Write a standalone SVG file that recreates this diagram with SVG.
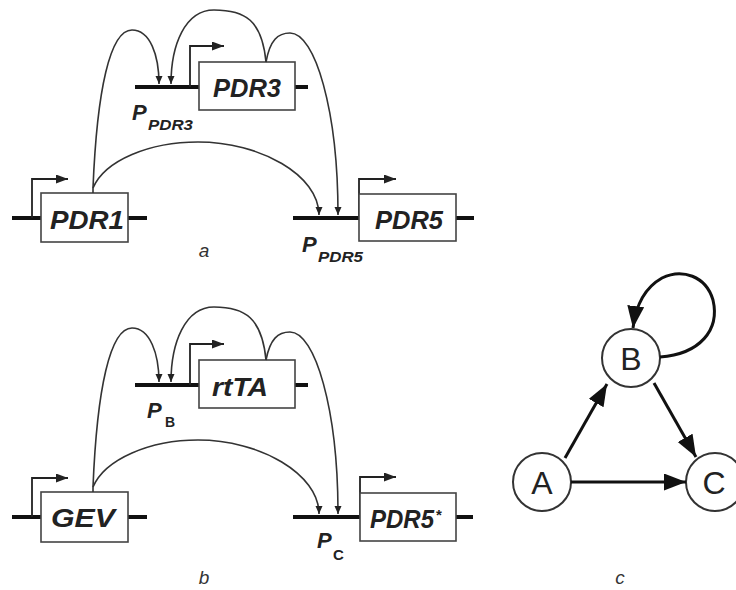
<svg xmlns="http://www.w3.org/2000/svg" width="736" height="590" viewBox="0 0 736 590">
<style>
.bg{fill:#ffffff}
.dna{stroke:#111;stroke-width:4;fill:none}
.box{fill:#fff;stroke:#444;stroke-width:1.6}
.prom{stroke:#222;stroke-width:1.8;fill:none}
.arc{stroke:#333;stroke-width:1.6;fill:none}
.gene{font-family:"Liberation Sans",Arial,sans-serif;font-weight:bold;font-style:italic;font-size:25px;fill:#222;text-anchor:middle}
.pl{font-family:"Liberation Sans",Arial,sans-serif;font-weight:bold;font-style:italic;fill:#222}
.sub{font-family:"Liberation Sans",Arial,sans-serif;font-weight:bold;fill:#222}
.cap{font-family:"Liberation Sans",Arial,sans-serif;font-style:italic;font-size:19px;fill:#333;text-anchor:middle}
.circ{fill:#fff;stroke:#333;stroke-width:2}
.let{font-family:"Liberation Sans",Arial,sans-serif;font-size:32px;fill:#222;text-anchor:middle}
.edge{stroke:#111;stroke-width:3;fill:none}
</style>
<defs>
<marker id="ah" markerUnits="userSpaceOnUse" markerWidth="9" markerHeight="9" refX="8" refY="4" orient="auto">
<path d="M0,0.5 L8,4 L0,7.5 z" fill="#222"/>
</marker>
<marker id="ph" markerUnits="userSpaceOnUse" markerWidth="13" markerHeight="10" refX="12" refY="4.5" orient="auto">
<path d="M0,0 L12,4.5 L0,9 z" fill="#222"/>
</marker>
<marker id="big" markerUnits="userSpaceOnUse" markerWidth="24" markerHeight="18" refX="22" refY="8.5" orient="auto">
<path d="M0,0 L22,8.5 L0,17 z" fill="#111"/>
</marker>
</defs>
<rect class="bg" x="0" y="0" width="736" height="590"/>

<!-- Panel a -->
<g id="PDR3">
<line class="dna" x1="135" y1="87" x2="199" y2="87"/>
<line class="dna" x1="295" y1="87" x2="308" y2="87"/>
<path class="prom" d="M190,87 V46 H224" marker-end="url(#ph)"/>
<rect class="box" x="199" y="62" width="96" height="48"/>
<text class="gene" x="247" y="97" textLength="68" lengthAdjust="spacingAndGlyphs">PDR3</text>
<text class="pl" x="132" y="120" font-size="22">P</text>
<text class="pl" x="148" y="130" font-size="14" textLength="45" lengthAdjust="spacingAndGlyphs">PDR3</text>
</g>
<g id="PDR1">
<line class="dna" x1="12" y1="218" x2="41" y2="218"/>
<line class="dna" x1="128" y1="218" x2="147" y2="218"/>
<path class="prom" d="M32,218 V179 H68" marker-end="url(#ph)"/>
<rect class="box" x="41" y="193" width="87" height="49"/>
<text class="gene" x="87" y="229" textLength="74" lengthAdjust="spacingAndGlyphs">PDR1</text>
</g>
<g id="PDR5">
<line class="dna" x1="293" y1="218" x2="359" y2="218"/>
<line class="dna" x1="456" y1="218" x2="474" y2="218"/>
<path class="prom" d="M359,218 V179 H396" marker-end="url(#ph)"/>
<rect class="box" x="359" y="194" width="97" height="47"/>
<text class="gene" x="409" y="229" textLength="68" lengthAdjust="spacingAndGlyphs">PDR5</text>
<text class="pl" x="302" y="252" font-size="22">P</text>
<text class="pl" x="318" y="262" font-size="15" textLength="45" lengthAdjust="spacingAndGlyphs">PDR5</text>
</g>
<text class="cap" x="204" y="257">a</text>

<!-- Panel b -->
<g id="rtTA">
<line class="dna" x1="135" y1="385" x2="199" y2="385"/>
<line class="dna" x1="295" y1="385" x2="308" y2="385"/>
<path class="prom" d="M190,385 V344 H224" marker-end="url(#ph)"/>
<rect class="box" x="199" y="360" width="96" height="48"/>
<text class="gene" x="240" y="396" textLength="56" lengthAdjust="spacingAndGlyphs">rtTA</text>
<text class="pl" x="147" y="418" font-size="22">P</text>
<text class="sub" x="165" y="427" font-size="14">B</text>
</g>
<g id="GEV">
<line class="dna" x1="12" y1="517" x2="41" y2="517"/>
<line class="dna" x1="128" y1="517" x2="147" y2="517"/>
<path class="prom" d="M32,517 V478 H68" marker-end="url(#ph)"/>
<rect class="box" x="41" y="492" width="87" height="50"/>
<text class="gene" x="83" y="527" textLength="64" lengthAdjust="spacingAndGlyphs">GEV</text>
</g>
<g id="PDR5star">
<line class="dna" x1="293" y1="517" x2="360" y2="517"/>
<line class="dna" x1="456" y1="517" x2="473" y2="517"/>
<path class="prom" d="M360,517 V477 H396" marker-end="url(#ph)"/>
<rect class="box" x="360" y="493" width="96" height="48"/>
<text class="gene" x="402" y="528" textLength="64" lengthAdjust="spacingAndGlyphs">PDR5</text>
<text class="sub" x="436" y="520" font-size="15">*</text>
<text class="pl" x="317" y="548" font-size="22">P</text>
<text class="sub" x="333" y="560" font-size="15">C</text>
</g>
<text class="cap" x="204" y="584">b</text>

<!-- Panel c -->
<g id="nodeB"><circle class="circ" cx="631" cy="358" r="29"/><text class="let" x="631" y="370">B</text></g>
<g id="nodeA"><circle class="circ" cx="542" cy="482" r="29"/><text class="let" x="542" y="494">A</text></g>
<g id="nodeC"><circle class="circ" cx="715" cy="482" r="29"/><text class="let" x="714" y="494">C</text></g>
<text class="cap" x="620" y="584">c</text>

<g id="connectors">
<path class="arc" d="M93,193 V188 C97,90 110,30 132,30 C150,30 159,55 159,84" marker-end="url(#ah)"/>
<path class="arc" d="M266,62 C262,20 245,10 214,10 C185,10 171,45 171,84" marker-end="url(#ah)"/>
<path class="arc" d="M266,62 C270,40 278,33 290,33 C315,33 338,110 338,215" marker-end="url(#ah)"/>
<path class="arc" d="M93,188 C105,160 150,142 198,142 C260,142 319,175 319,215" marker-end="url(#ah)"/>

<path class="arc" d="M93,492 V487 C97,389 110,328 132,328 C150,328 159,354 159,382" marker-end="url(#ah)"/>
<path class="arc" d="M266,360 C262,318 245,307 214,307 C185,307 171,343 171,382" marker-end="url(#ah)"/>
<path class="arc" d="M266,360 C270,339 278,332 290,332 C315,332 338,409 338,514" marker-end="url(#ah)"/>
<path class="arc" d="M93,487 C105,459 150,440 198,440 C260,440 319,474 319,514" marker-end="url(#ah)"/>

<path class="edge" d="M565,458 L607,384" marker-end="url(#big)"/>
<path class="edge" d="M654,383 L696,457" marker-end="url(#big)"/>
<path class="edge" d="M571,482 L686,482" marker-end="url(#big)"/>
<path class="edge" d="M660,357 C700,354 720,330 713,300 C706,276 682,268 662,278 C646,287 636,304 633,328" marker-end="url(#big)"/>
</g>
</svg>
